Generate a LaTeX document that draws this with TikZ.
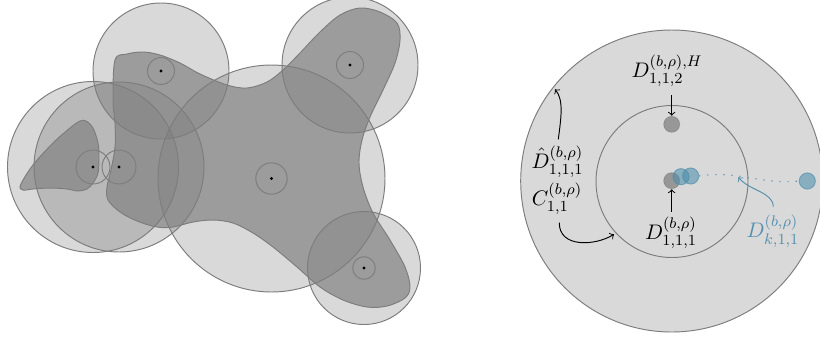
\documentclass[tikz,border=0pt]{standalone}
\usepackage{amsmath}
\definecolor{dblue}{RGB}{70,140,170}
\definecolor{lblue}{RGB}{85,145,175}
\definecolor{edge}{RGB}{125,125,125}
\definecolor{blobc}{RGB}{133,133,133}
\tikzset{
  diskfill/.style={fill=black, fill opacity=0.15},
  bigdisk/.style={fill=black, fill opacity=0.15, draw=edge, line width=0.5pt},
  ring/.style={draw=edge, line width=0.5pt},
  blob/.style={fill=blobc, fill opacity=0.73, draw=edge, line width=0.5pt},
  cdot/.style={fill=black, circle, inner sep=0pt, minimum size=1.6pt},
  gdot/.style={circle, inner sep=0pt, minimum size=8.4pt, fill=black, fill opacity=0.3, draw=black, draw opacity=0.12, line width=0.5pt},
  bdot/.style={circle, inner sep=0pt, minimum size=8.4pt, fill=dblue, fill opacity=0.55, draw=dblue, draw opacity=0.6, line width=0.5pt},
  arr/.style={->, line width=0.5pt, black},
  barr/.style={->, line width=0.5pt, lblue},
  lab/.style={inner sep=0pt, font=\fontsize{11}{13}\selectfont}
}
\begin{document}
\begin{tikzpicture}[x=0.52pt, y=-0.52pt]
\useasboundingbox (0,0) rectangle (820,337);
% ---------- left picture ----------
\fill[diskfill] (271.5,178.5) circle (113.5);
\fill[diskfill] (161,71) circle (68);
\fill[diskfill] (350,65) circle (68);
\fill[diskfill] (364,268) circle (56.5);
\fill[diskfill] (93,167) circle (85.5);
\fill[diskfill] (119,167) circle (85);
% blobs
\draw[blob] plot[smooth cycle, tension=0.55] coordinates {
 (113,100) (115,60) (127,54) (143,52) (160,55) (180,63) (200,74) (227,85) (247,88)
 (267,82) (283,70) (300,53) (320,32) (340,15) (360,8) (380,12) (397,23) (400,40)
 (395,63) (383,90) (370,117) (362,140) (359,163) (363,187) (373,213) (390,240)
 (405,267) (410,287) (405,298) (387,306) (367,307) (343,300) (320,287) (297,267)
 (273,247) (253,233) (233,223) (213,220) (193,222) (173,227) (157,227) (137,221)
 (120,212) (108,200) (107,187) (111,170) (115,147) (115,123)};
\draw[blob] plot[smooth cycle, tension=0.55] coordinates {
 (20.5,185) (33,165) (53,143) (70,128) (80,121) (86,121) (93,128) (98,143) (99,157)
 (98,173) (93,183) (87,189) (78,191) (67,189) (50,188) (33,189) (23,190)};
% circle outlines on top
\draw[ring] (271.5,178.5) circle (113.5);
\draw[ring] (161,71) circle (68);
\draw[ring] (350,65) circle (68);
\draw[ring] (364,268) circle (56.5);
\draw[ring] (93,167) circle (85.5);
\draw[ring] (119,167) circle (85);
% small rings and centre dots
\draw[ring] (271.5,178.5) circle (15.7);
\draw[ring] (161,71) circle (13.5);
\draw[ring] (350,65) circle (13.5);
\draw[ring] (364,268) circle (11.3);
\draw[ring] (93,167) circle (17);
\draw[ring] (119,167) circle (17);
\node[cdot] (c1) at (271.5,178.5) {};
\node[cdot] (c2) at (161,71) {};
\node[cdot] (c3) at (350,65) {};
\node[cdot] (c4) at (364,268) {};
\node[cdot] (c5) at (93,167) {};
\node[cdot] (c6) at (119,167) {};
% ---------- right picture ----------
\draw[bigdisk] (671.7,181) circle (151);
\draw[ring] (672,181.5) circle (76);
\node[gdot] (dtop) at (671.7,124.3) {};
\node[gdot] (dmid) at (671.7,180.7) {};
\node[bdot] (b1) at (681,176.7) {};
\node[bdot] (b2) at (690.7,176) {};
\node[bdot] (bfar) at (807.3,181) {};
\draw[lblue, line width=0.6pt, dash pattern=on 0.6pt off 3.6pt]
  (b2.east) .. controls (740,170) and (760,185) .. (bfar.west);
% labels
\node[lab] (lH) at (667,71) {$D^{(b,\rho),H}_{1,1,2}$};
\node[lab] (lhat) at (557.5,161.5) {$\hat{D}^{(b,\rho)}_{1,1,1}$};
\node[lab] (lC) at (557,199) {$C^{(b,\rho)}_{1,1}$};
\node[lab] (l111) at (671,232.5) {$D^{(b,\rho)}_{1,1,1}$};
\node[lab, text=lblue] (lk) at (773,231.5) {$D^{(b,\rho)}_{k,1,1}$};
% arrow end points
\coordinate (hs) at (671.7,95);
\coordinate (ds) at (671.7,211.5);
\coordinate (hatS) at (558.3,139.3);
\coordinate (hatE) at (555,89.3);
\coordinate (cS) at (559.3,222.7);
\coordinate (cE) at (614,234.3);
\coordinate (kS) at (773.3,206.7);
\coordinate (kE) at (738.3,177.3);
\draw[arr] (hs) -- (dtop.north);
\draw[arr] (ds) -- (dmid.south);
\draw[arr] (hatS) .. controls (561,118) and (564,100) .. (hatE);
\draw[arr] (cS) .. controls (559,248) and (595,246) .. (cE);
\draw[barr] (kS) .. controls (773,192) and (750,191) .. (kE);
\end{tikzpicture}
\end{document}
